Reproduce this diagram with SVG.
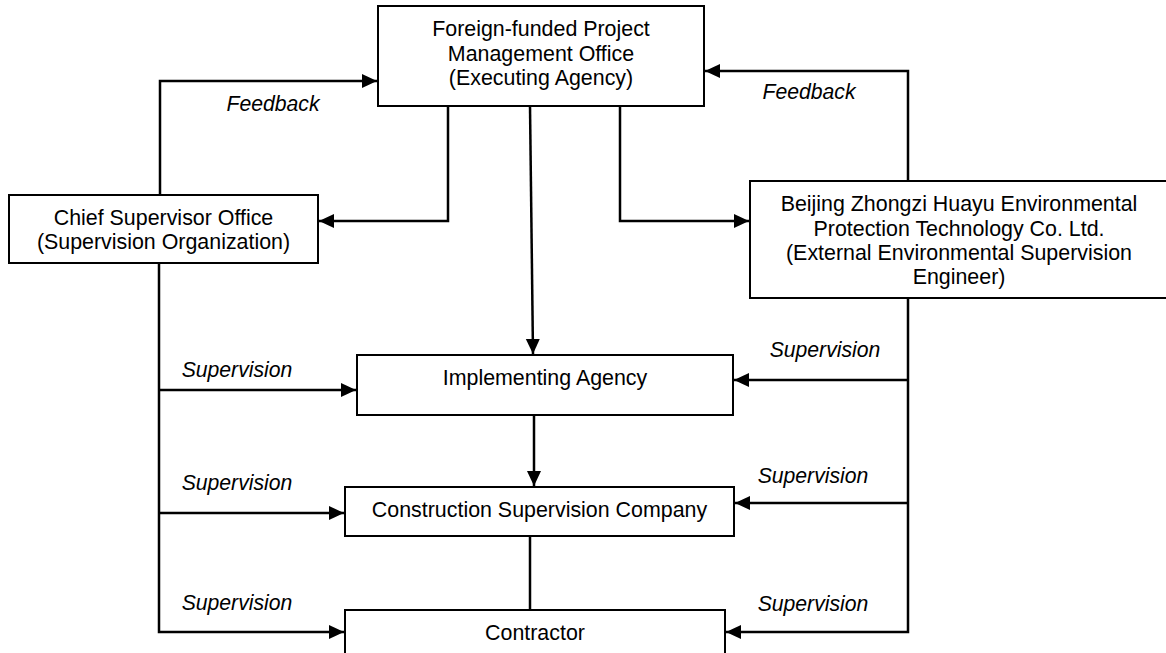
<svg xmlns="http://www.w3.org/2000/svg" width="1166" height="653" viewBox="0 0 1166 653">
<defs>
<style>
.box{fill:#fff;stroke:#000;stroke-width:2}
.t{font-family:"Liberation Sans",Arial,sans-serif;font-size:21.4px;fill:#000;text-anchor:middle}
.l{font-family:"Liberation Sans",Arial,sans-serif;font-size:21.2px;font-style:italic;fill:#000;text-anchor:middle}
.c{fill:none;stroke:#000;stroke-width:2.5}
</style>
<marker id="ah" markerUnits="userSpaceOnUse" markerWidth="16" markerHeight="15" refX="15" refY="7" orient="auto">
<path d="M0,0 L15,7 L0,14 z" fill="#000"/>
</marker>
</defs>
<rect width="1166" height="653" fill="#fff"/>
<g id="connectors">
<path class="c" d="M160,195 V81 H377" marker-end="url(#ah)"/>
<path class="c" d="M908,181 V71 H705" marker-end="url(#ah)"/>
<path class="c" d="M448,106 V221 H319" marker-end="url(#ah)"/>
<path class="c" d="M620,106 V221 H749" marker-end="url(#ah)"/>
<path class="c" d="M530,106 L533,354" marker-end="url(#ah)"/>
<path class="c" d="M534,415 V486" marker-end="url(#ah)"/>
<path class="c" d="M530,536 V610"/>
<path class="c" d="M159,263 V632 H344" marker-end="url(#ah)"/>
<path class="c" d="M159,390 H356" marker-end="url(#ah)"/>
<path class="c" d="M159,513 H344" marker-end="url(#ah)"/>
<path class="c" d="M908,298 V632 H726" marker-end="url(#ah)"/>
<path class="c" d="M908,380 H734" marker-end="url(#ah)"/>
<path class="c" d="M908,503 H735" marker-end="url(#ah)"/>
<text class="l" x="273" y="111">Feedback</text>
<text class="l" x="809" y="99">Feedback</text>
<text class="l" x="237" y="377">Supervision</text>
<text class="l" x="237" y="490">Supervision</text>
<text class="l" x="237" y="610">Supervision</text>
<text class="l" x="825" y="357">Supervision</text>
<text class="l" x="813" y="483">Supervision</text>
<text class="l" x="813" y="611">Supervision</text>
</g>
<g id="pmo">
<rect class="box" x="378" y="6" width="326" height="100"/>
<text class="t" x="541" y="36">Foreign-funded Project</text>
<text class="t" x="541" y="61">Management Office</text>
<text class="t" x="541" y="85">(Executing Agency)</text>
</g>
<g id="chief">
<rect class="box" x="9" y="195" width="309" height="68"/>
<text class="t" x="163.5" y="225">Chief Supervisor Office</text>
<text class="t" x="163.5" y="249">(Supervision Organization)</text>
</g>
<g id="beijing">
<rect class="box" x="750" y="181" width="430" height="117"/>
<text class="t" x="959" y="211">Beijing Zhongzi Huayu Environmental</text>
<text class="t" x="959" y="235.5">Protection Technology Co. Ltd.</text>
<text class="t" x="959" y="260">(External Environmental Supervision</text>
<text class="t" x="959" y="284">Engineer)</text>
</g>
<g id="implementing">
<rect class="box" x="357" y="355" width="376" height="60"/>
<text class="t" x="545" y="385">Implementing Agency</text>
</g>
<g id="construction">
<rect class="box" x="345" y="487" width="389" height="49"/>
<text class="t" x="539.5" y="517">Construction Supervision Company</text>
</g>
<g id="contractor">
<rect class="box" x="345" y="610" width="380" height="60"/>
<text class="t" x="535" y="640">Contractor</text>
</g>
</svg>
